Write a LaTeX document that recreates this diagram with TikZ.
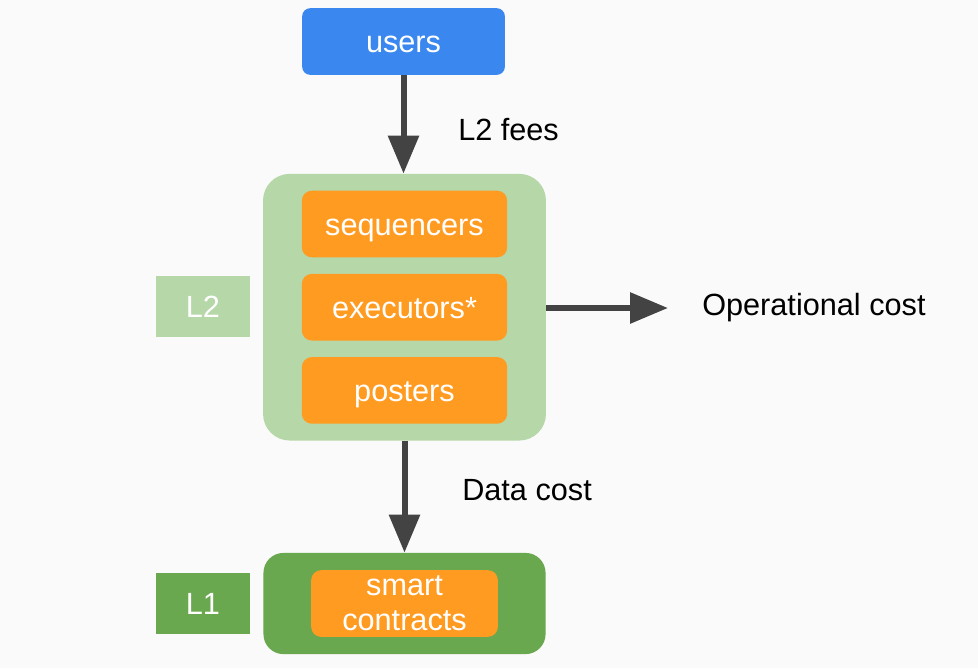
\documentclass[tikz,border=0pt]{standalone}
\usepackage{fontspec}
\setmainfont{Liberation Sans}
\usetikzlibrary{arrows.meta,positioning,fit,backgrounds}
\definecolor{usrblue}{HTML}{3B87F0}
\definecolor{paleg}{HTML}{B6D7A8}
\definecolor{darkg}{HTML}{6AA84F}
\definecolor{orng}{HTML}{FF9B21}
\definecolor{arrg}{HTML}{434343}
\definecolor{bgc}{HTML}{FAFAFA}

\begin{document}
\begin{tikzpicture}[x=0.75pt,y=-0.75pt,>={Triangle[length=28.5pt,width=22.5pt]},
  font=\fontsize{23}{26}\selectfont,
  bx/.style={text=white,inner sep=0pt,rounded corners=7.5pt},
  orbox/.style={bx,fill=orng,minimum height=50pt},
  role/.style={orbox,minimum width=154pt,text height=16.5pt,text depth=0pt},
  lay/.style={text=white,inner sep=0pt,minimum width=70.5pt,minimum height=45.75pt},
  lbl/.style={inner sep=0pt,anchor=west},
  arr/.style={->,draw=arrg,fill=arrg,line width=4.5pt}]
  \node[bx,fill=usrblue,minimum width=152pt,minimum height=50pt,rounded corners=6pt,
    text height=17pt,text depth=0pt](users)at(403.5,41.5){users};
  \node[role](seq)at(404.5,224){sequencers};
  \node[role,below=12pt of seq](exec){executors*};
  \node[role,below=12pt of exec](post){posters};
  \node[orbox,minimum width=140pt,align=center](sc)at(404.5,603.5){smart\\contracts};
  \begin{scope}[on background layer]
    \fill[bgc](0,0)rectangle(978,668);
    \node[fit=(seq)(exec)(post),fill=paleg,rounded corners=20pt,inner xsep=28.9pt,inner ysep=12.4pt](l2box){};
    \node[fit=(sc),fill=darkg,rounded corners=15pt,inner xsep=35.6pt,inner ysep=12.75pt](l1box){};
  \end{scope}
  \node[lay,fill=paleg](l2lab)at(203,306.5){L2};\node[lay,fill=darkg](l1lab)at(203,603.5){L1};
  \node[lbl](fees)at(458,130){L2 fees};\node[lbl](dcost)at(462,490){Data cost};
  \node[lbl](opcost)at(702,308){Operational cost};
  \draw[arr](users.south)--(users.south|-l2box.north);
  \draw[arr](l2box.south)--(l1box.north);
  \draw[arr,shorten >=25.5pt](l2box.east|-opcost)--(opcost.west);
\end{tikzpicture}
\end{document}
